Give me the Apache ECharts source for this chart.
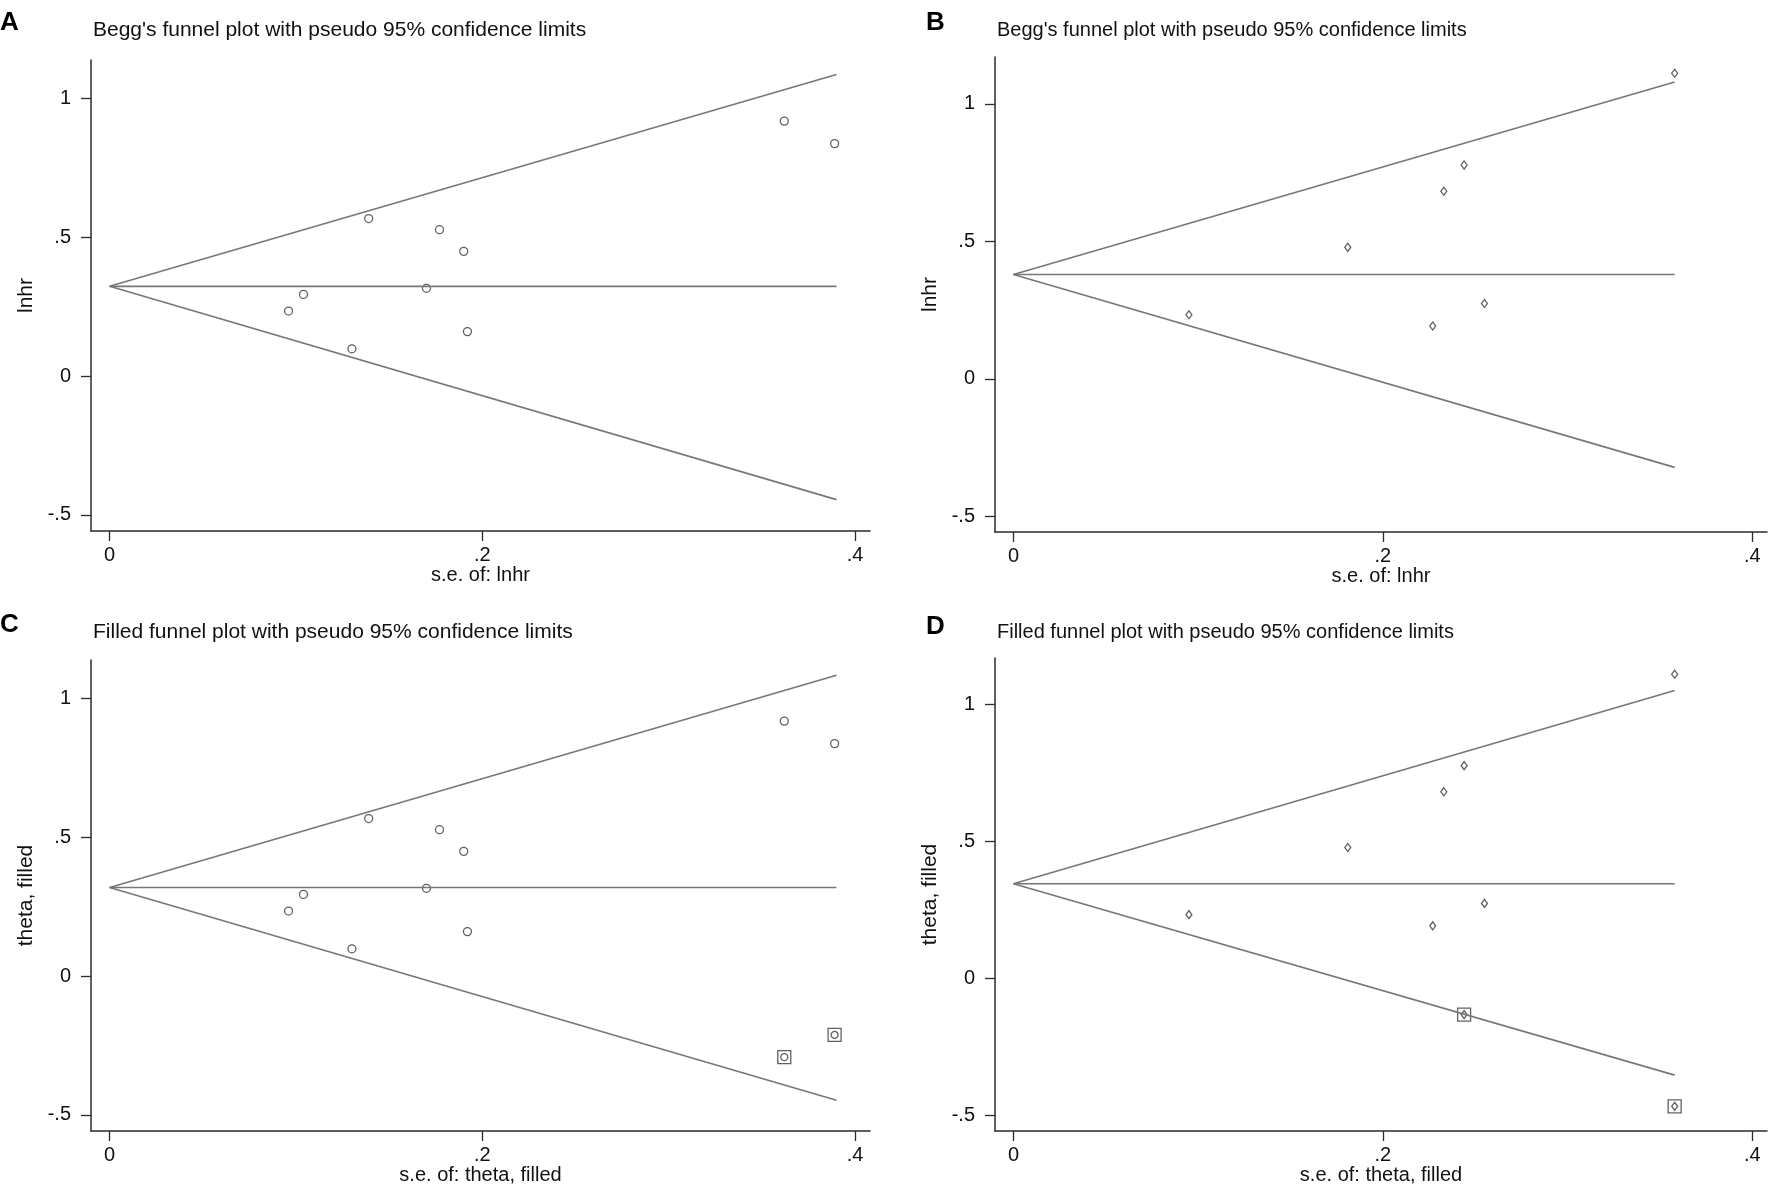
<!DOCTYPE html>
<html>
<head>
<meta charset="utf-8">
<script src="https://cdn.jsdelivr.net/npm/echarts@6/dist/echarts.min.js"></script>
<style>
  html, body { margin: 0; padding: 0; background: #fff; }
  #main { width: 1772px; height: 1186px; }
</style>
</head>
<body>
<div id="main"></div>
<script>
var myChart = echarts.init(document.getElementById('main'));

// panel A / C : studies (se, lnhr)
var seAC = [0.362, 0.389, 0.139, 0.177, 0.190, 0.104, 0.096, 0.170, 0.192, 0.130];
var lnhrAC = [0.918, 0.837, 0.567, 0.527, 0.449, 0.294, 0.234, 0.316, 0.160, 0.098];
// panel B / D : studies
var seBD = [0.358, 0.244, 0.233, 0.181, 0.095, 0.227, 0.255];
var lnhrBD = [1.111, 0.777, 0.682, 0.478, 0.233, 0.192, 0.274];
// filled (imputed) studies
var seFillC = [0.362, 0.389];
var thetaFillC = [-0.292, -0.212];
var seFillD = [0.244, 0.358];
var thetaFillD = [-0.132, -0.467];

// pseudo 95% limits: [se at end, centre, upper end, lower end]
var funnelA = [0.39, 0.323, 1.086, -0.445];
var funnelB = [0.358, 0.379, 1.079, -0.322];
var funnelC = [0.39, 0.319, 1.083, -0.447];
var funnelD = [0.358, 0.346, 1.051, -0.353];

var yTicks = [-0.5, 0, 0.5, 1];
var xTicks = [0, 0.2, 0.4];

var titles = [
    "Begg's funnel plot with pseudo 95% confidence limits",
    "Begg's funnel plot with pseudo 95% confidence limits",
    'Filled funnel plot with pseudo 95% confidence limits',
    'Filled funnel plot with pseudo 95% confidence limits'
];
var yNames = ['lnhr', 'lnhr', 'theta, filled', 'theta, filled'];
var xNames = ['s.e. of: lnhr', 's.e. of: lnhr', 's.e. of: theta, filled', 's.e. of: theta, filled'];

var FONT = '"Liberation Sans", Arial, sans-serif';
var AXIS = '#2b2b2b';
var LINE = '#777777';

function stataNum(v) {
    if (v === 0) return '0';
    return String(v).replace('0.', '.');
}

function pairs(xs, ys) {
    var res = [];
    for (var i = 0; i < xs.length; i++) res.push([xs[i], ys[i]]);
    return res;
}

var grids = [
    {left: 91, top: 60, width: 779, height: 471},
    {left: 995, top: 57, width: 772, height: 475},
    {left: 91, top: 660, width: 779, height: 473},
    {left: 995, top: 658, width: 772, height: 476}
];
var yRange = [[-0.558, 1.138], [-0.557, 1.17], [-0.558, 1.138], [-0.557, 1.17]];

var xAxes = [], yAxes = [], series = [];
for (var g = 0; g < 4; g++) {
    xAxes.push({
        type: 'value', gridIndex: g, min: -0.01, max: 0.408,
        name: xNames[g], nameLocation: 'middle', nameGap: 34, nameMoveOverlap: false,
        nameTextStyle: {fontFamily: FONT, fontSize: 20, color: '#111'},
        axisLine: {show: true, onZero: false, lineStyle: {color: AXIS, width: 1.5}},
        axisTick: {show: true, customValues: xTicks, length: 10, lineStyle: {color: AXIS, width: 1.3}},
        axisLabel: {customValues: xTicks, formatter: stataNum, margin: 14,
            fontFamily: FONT, fontSize: 20, color: '#111'},
        splitLine: {show: false}
    });
    yAxes.push({
        type: 'value', gridIndex: g, min: yRange[g][0], max: yRange[g][1],
        name: yNames[g], nameLocation: 'middle', nameGap: 54, nameRotate: 90, nameMoveOverlap: false,
        nameTextStyle: {fontFamily: FONT, fontSize: 21, color: '#111'},
        axisLine: {show: true, onZero: false, lineStyle: {color: AXIS, width: 1.5}},
        axisTick: {show: true, customValues: yTicks, length: 10, lineStyle: {color: AXIS, width: 1.3}},
        axisLabel: {customValues: yTicks, formatter: stataNum, margin: 20,
            fontFamily: FONT, fontSize: 20, color: '#111'},
        splitLine: {show: false}
    });
}

function funnelSeries(g, f) {
    var lines = [
        [[0, f[1]], [f[0], f[2]]],
        [[0, f[1]], [f[0], f[1]]],
        [[0, f[1]], [f[0], f[3]]]
    ];
    lines.forEach(function (d) {
        series.push({
            type: 'line', xAxisIndex: g, yAxisIndex: g, data: d,
            symbol: 'none', silent: true, animation: false,
            lineStyle: {color: LINE, width: 1.6}
        });
    });
}

function studySeries(g, data, symbol, size) {
    series.push({
        type: 'scatter', xAxisIndex: g, yAxisIndex: g, data: data,
        symbol: symbol, symbolSize: size, animation: false,
        itemStyle: {color: '#fff', borderColor: '#3a3a3a', borderWidth: 1.3}
    });
}

var circle = 'circle';
var diamond = 'diamond';

funnelSeries(0, funnelA);
studySeries(0, pairs(seAC, lnhrAC), circle, 8);

funnelSeries(1, funnelB);
studySeries(1, pairs(seBD, lnhrBD), diamond, [6, 8]);

funnelSeries(2, funnelC);
studySeries(2, pairs(seAC, lnhrAC), circle, 8);
studySeries(2, pairs(seFillC, thetaFillC), 'rect', 13);
studySeries(2, pairs(seFillC, thetaFillC), circle, 7);

funnelSeries(3, funnelD);
studySeries(3, pairs(seBD, lnhrBD), diamond, [6, 8]);
studySeries(3, pairs(seFillD, thetaFillD), 'rect', 13);
studySeries(3, pairs(seFillD, thetaFillD), diamond, [6, 8]);

var titleList = [
    {text: 'A', left: 0, top: 10},
    {text: 'B', left: 926, top: 10},
    {text: 'C', left: 0, top: 612},
    {text: 'D', left: 926, top: 614}
].map(function (t) {
    t.textStyle = {fontFamily: FONT, fontSize: 26, fontWeight: 'bold', color: '#000'};
    t.padding = 0;
    return t;
});
var titlePos = [[93, 20], [997, 20], [93, 622], [997, 622]];
var titleSize = [21, 20, 21, 20];
for (var i = 0; i < 4; i++) {
    titleList.push({
        text: titles[i], left: titlePos[i][0], top: titlePos[i][1], padding: 0,
        textStyle: {fontFamily: FONT, fontSize: titleSize[i], fontWeight: 'normal', color: '#111'}
    });
}

option = {
    backgroundColor: '#fff',
    animation: false,
    title: titleList,
    grid: grids,
    xAxis: xAxes,
    yAxis: yAxes,
    series: series
};
myChart.setOption(option);
</script>
</body>
</html>
